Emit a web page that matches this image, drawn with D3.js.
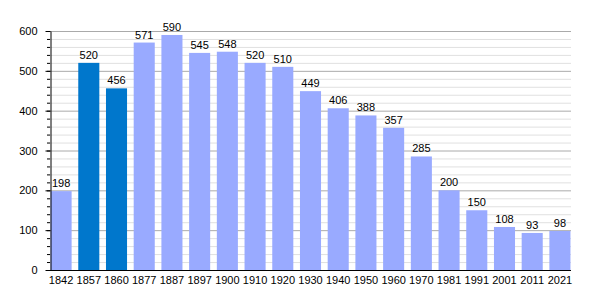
<!DOCTYPE html>
<html><head><meta charset="utf-8">
<script src="https://cdn.jsdelivr.net/npm/d3@7"></script>
<style>body{margin:0;background:#fff}svg{display:block}text{font-family:"Liberation Sans",Arial,sans-serif;font-size:11px;fill:#000}</style>
</head><body>
<svg id="c" width="600" height="300"></svg>
<script>
const years = ["1842","1857","1860","1877","1887","1897","1900","1910","1920","1930","1940","1950","1960","1970","1981","1991","2001","2011","2021"];
const population = [198,520,456,571,590,545,548,520,510,449,406,388,357,285,200,150,108,93,98];
const highlighted = ["1857","1860"];
const yTicks = [0,100,200,300,400,500,600];

const svg = d3.select("#c");
const L = 50, R = 571, T = 31, B = 270;
const x = d3.scaleBand().domain(years).range([L, R]).paddingInner(0.24).paddingOuter(0.02);
const y = d3.scaleLinear().domain([0, 600]).range([B, T]);

const minor = d3.range(0, 601, 20);
svg.append("g").selectAll("line").data(minor).join("line")
  .attr("x1", L).attr("x2", R)
  .attr("y1", d => y(d) + 0.5).attr("y2", d => y(d) + 0.5)
  .attr("stroke", d => d % 100 === 0 ? "#aaaaaa" : "#e0e0e0").attr("stroke-width", 1);

svg.append("g").selectAll("rect").data(years).join("rect")
  .attr("x", d => x(d)).attr("width", x.bandwidth())
  .attr("y", (d, i) => y(population[i])).attr("height", (d, i) => B - y(population[i]))
  .attr("fill", d => highlighted.includes(d) ? "#0077cc" : "#99aaff");

svg.append("g").selectAll("text").data(years).join("text")
  .attr("x", d => x(d) + x.bandwidth() / 2).attr("y", (d, i) => y(population[i]) - 4)
  .attr("text-anchor", "middle").text((d, i) => population[i]);

// y axis minor ticks
svg.append("g").selectAll("line").data(minor).join("line")
  .attr("x1", L - 3).attr("x2", L).attr("y1", d => y(d) + 0.5).attr("y2", d => y(d) + 0.5)
  .attr("stroke", "#000");
const ya = svg.append("g").attr("transform", `translate(${L + 0.5},0)`)
  .call(d3.axisLeft(y).tickValues(yTicks).tickSize(5).tickSizeOuter(0).tickPadding(8));
ya.select(".domain").attr("stroke", "#000");
ya.selectAll("text").style("font-size", "11px").style("font-family", "Liberation Sans, Arial, sans-serif");

const xa = svg.append("g").attr("transform", `translate(0,${B + 0.5})`)
  .call(d3.axisBottom(x).tickSize(0).tickPadding(6));
xa.select(".domain").attr("stroke", "#000").attr("d", `M${L},0H${R}`);
xa.selectAll("text").style("font-size", "11px").style("font-family", "Liberation Sans, Arial, sans-serif");
</script>
</body></html>
